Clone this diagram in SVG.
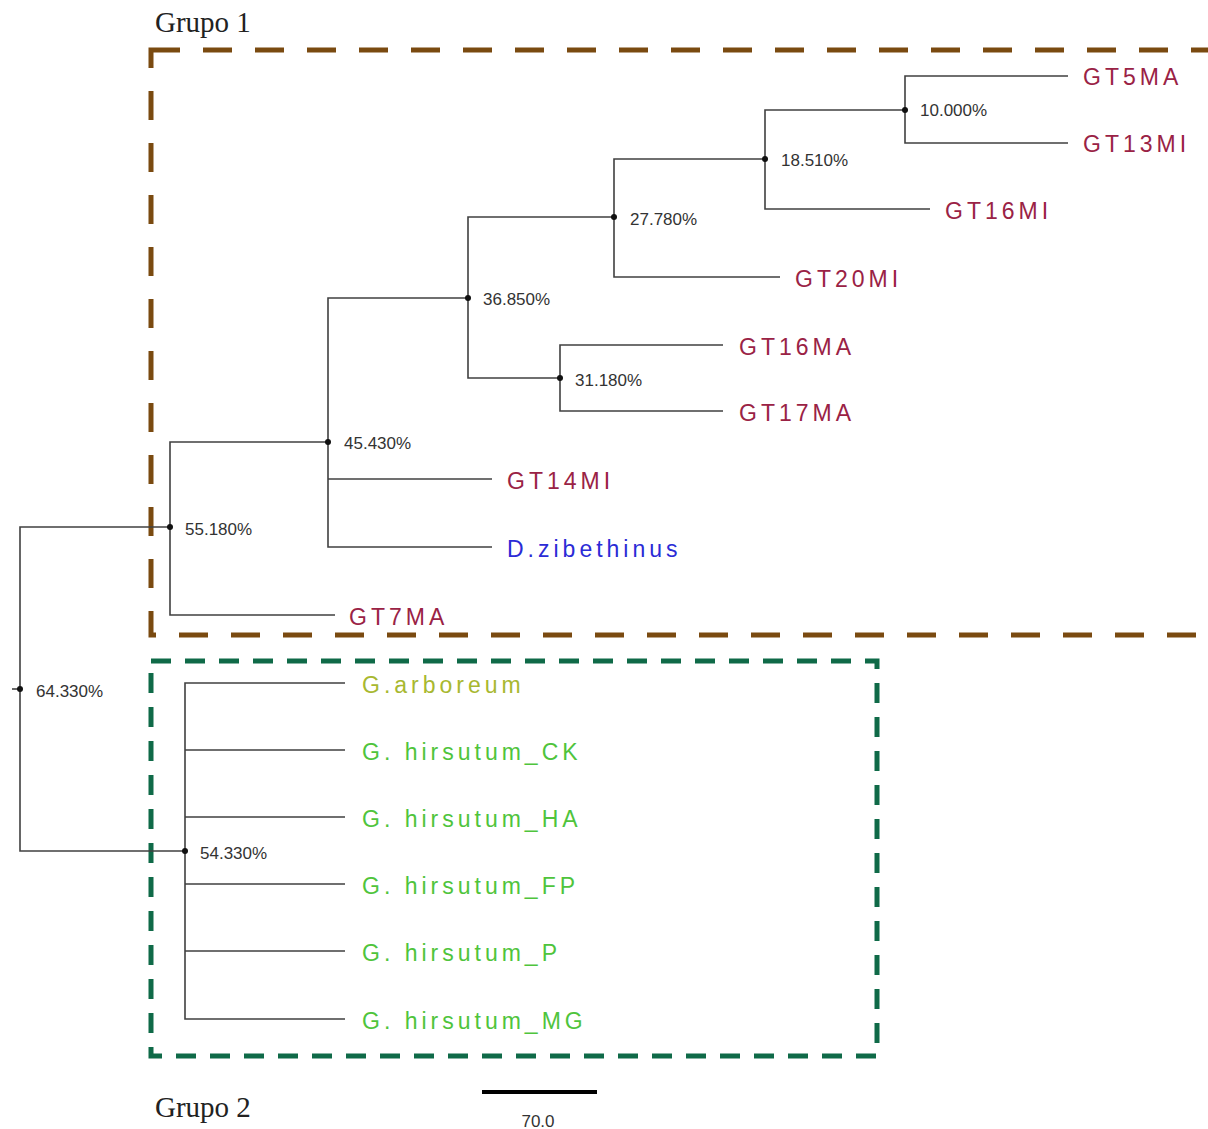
<svg xmlns="http://www.w3.org/2000/svg" width="1208" height="1129" viewBox="0 0 1208 1129">
<style>
.br{fill:none;stroke:#404040;stroke-width:1.6}
.dot{fill:#111}
.pct{font-family:"Liberation Sans",Arial,sans-serif;font-size:17px;fill:#333}
.lf{font-family:"Liberation Sans",Arial,sans-serif;font-size:23px;letter-spacing:4px}
.gt{fill:#9a2245}
.dz{fill:#2b2bd6}
.ga{fill:#a8b830}
.gh{fill:#4fc43c}
.grp{font-family:"Liberation Serif","Times New Roman",serif;font-size:29px;fill:#222}
</style>
<rect width="1208" height="1129" fill="#fff"/>
<g id="group1-box"><rect x="151" y="50" width="1062" height="585" fill="none" stroke="#7a4a10" stroke-width="5" stroke-dasharray="29 23"/></g>
<g id="group2-box"><rect x="151" y="661" width="726" height="395" fill="none" stroke="#0f6a48" stroke-width="5" stroke-dasharray="20 14"/></g>
<g id="connectors">
<path class="br" d="M1068 76H905V143H1068"/>
<path class="br" d="M905 110H765V209H930"/>
<path class="br" d="M765 159H614V277H780"/>
<path class="br" d="M614 217H468V378H560"/>
<path class="br" d="M723 345H560V411H723"/>
<path class="br" d="M468 298H328V547H492"/>
<path class="br" d="M328 479H492"/>
<path class="br" d="M328 442H170V615H335"/>
<path class="br" d="M170 527H20V851H185"/>
<path class="br" d="M12 689H20"/>
<path class="br" d="M345 683H185V1019H345"/>
<path class="br" d="M185 750H345M185 817H345M185 884H345M185 951H345"/>
</g>
<g id="nodes">
<g id="n10"><circle class="dot" cx="905" cy="110" r="3"/><text class="pct" x="920" y="116">10.000%</text></g>
<g id="n18"><circle class="dot" cx="765" cy="159" r="3"/><text class="pct" x="781" y="166">18.510%</text></g>
<g id="n27"><circle class="dot" cx="614" cy="217" r="3"/><text class="pct" x="630" y="225">27.780%</text></g>
<g id="n36"><circle class="dot" cx="468" cy="298" r="3"/><text class="pct" x="483" y="305">36.850%</text></g>
<g id="n31"><circle class="dot" cx="560" cy="378" r="3"/><text class="pct" x="575" y="386">31.180%</text></g>
<g id="n45"><circle class="dot" cx="328" cy="442" r="3"/><text class="pct" x="344" y="449">45.430%</text></g>
<g id="n55"><circle class="dot" cx="170" cy="527" r="3"/><text class="pct" x="185" y="535">55.180%</text></g>
<g id="n64"><circle class="dot" cx="20" cy="689" r="3"/><text class="pct" x="36" y="697">64.330%</text></g>
<g id="n54"><circle class="dot" cx="185" cy="851" r="3"/><text class="pct" x="200" y="859">54.330%</text></g>
<g id="GT5MA"><text class="lf gt" x="1083" y="85">GT5MA</text></g>
<g id="GT13MI"><text class="lf gt" x="1083" y="152">GT13MI</text></g>
<g id="GT16MI"><text class="lf gt" x="945" y="219">GT16MI</text></g>
<g id="GT20MI"><text class="lf gt" x="795" y="287">GT20MI</text></g>
<g id="GT16MA"><text class="lf gt" x="739" y="355">GT16MA</text></g>
<g id="GT17MA"><text class="lf gt" x="739" y="421">GT17MA</text></g>
<g id="GT14MI"><text class="lf gt" x="507" y="489">GT14MI</text></g>
<g id="Dzib"><text class="lf dz" x="507" y="557">D.zibethinus</text></g>
<g id="GT7MA"><text class="lf gt" x="349" y="625">GT7MA</text></g>
<g id="Garb"><text class="lf ga" x="362" y="693">G.arboreum</text></g>
<g id="GhCK"><text class="lf gh" x="362" y="760">G. hirsutum_CK</text></g>
<g id="GhHA"><text class="lf gh" x="362" y="827">G. hirsutum_HA</text></g>
<g id="GhFP"><text class="lf gh" x="362" y="894">G. hirsutum_FP</text></g>
<g id="GhP"><text class="lf gh" x="362" y="961">G. hirsutum_P</text></g>
<g id="GhMG"><text class="lf gh" x="362" y="1029">G. hirsutum_MG</text></g>
</g>
<text class="grp" x="155" y="32">Grupo 1</text>
<text class="grp" x="155" y="1117">Grupo 2</text>
<g id="scale"><line x1="482" y1="1092" x2="597" y2="1092" stroke="#000" stroke-width="4"/><text class="pct" x="538" y="1127" text-anchor="middle" fill="#222">70.0</text></g>
</svg>
